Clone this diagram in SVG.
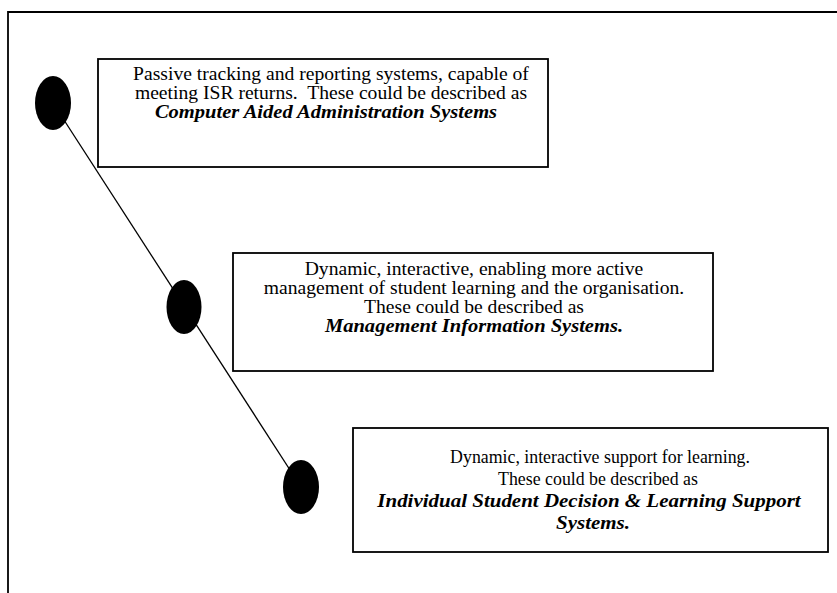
<svg xmlns="http://www.w3.org/2000/svg" width="837" height="593" viewBox="0 0 837 593">
  <style>
    .frame { stroke: #000; stroke-width: 1.8; fill: none; }
    .box { fill: #fff; stroke: #000; stroke-width: 1.8; }
    .dot { fill: #000; }
    .link { stroke: #000; stroke-width: 1.3; fill: none; }
    text { font-family: "Liberation Serif", "Times New Roman", serif; font-size: 18px; fill: #000; text-anchor: middle; }
    .em { font-weight: bold; font-style: italic; }
  </style>

  <!-- page frame (top and left rules) -->
  <g id="frame">
    <line class="frame" x1="8" y1="12" x2="837" y2="12"/>
    <line class="frame" x1="8" y1="11" x2="8" y2="593"/>
  </g>

  <!-- timeline running through the three stages -->
  <g id="connectors">
    <line class="link" x1="53" y1="103" x2="301" y2="487"/>
  </g>

  <g id="stage-1">
    <ellipse class="dot" cx="53" cy="103" rx="18" ry="27"/>
    <rect class="box" x="98" y="59" width="450" height="108"/>
    <text transform="translate(331,80) scale(1.09,1)">Passive tracking and reporting systems, capable of</text>
    <text transform="translate(331,99) scale(1.09,1)" xml:space="preserve">meeting ISR returns.  These could be described as</text>
    <text class="em" transform="translate(326,118) scale(1.14,1)">Computer Aided Administration Systems</text>
  </g>

  <g id="stage-2">
    <ellipse class="dot" cx="184" cy="307" rx="17.5" ry="27"/>
    <rect class="box" x="233" y="253" width="480" height="118"/>
    <text transform="translate(474,275) scale(1.09,1)">Dynamic, interactive, enabling more active</text>
    <text transform="translate(474,294) scale(1.09,1)">management of student learning and the organisation.</text>
    <text transform="translate(474,313) scale(1.09,1)">These could be described as</text>
    <text class="em" transform="translate(474,332) scale(1.14,1)">Management Information Systems.</text>
  </g>

  <g id="stage-3">
    <ellipse class="dot" cx="301" cy="487" rx="18" ry="27"/>
    <rect class="box" x="353" y="428" width="475" height="124"/>
    <text transform="translate(600,463) scale(0.99,1)">Dynamic, interactive support for learning.</text>
    <text transform="translate(598,485) scale(0.99,1)">These could be described as</text>
    <text class="em" transform="translate(589,507) scale(1.165,1)">Individual Student Decision &amp; Learning Support</text>
    <text class="em" transform="translate(593,529) scale(1.165,1)">Systems.</text>
  </g>
</svg>
